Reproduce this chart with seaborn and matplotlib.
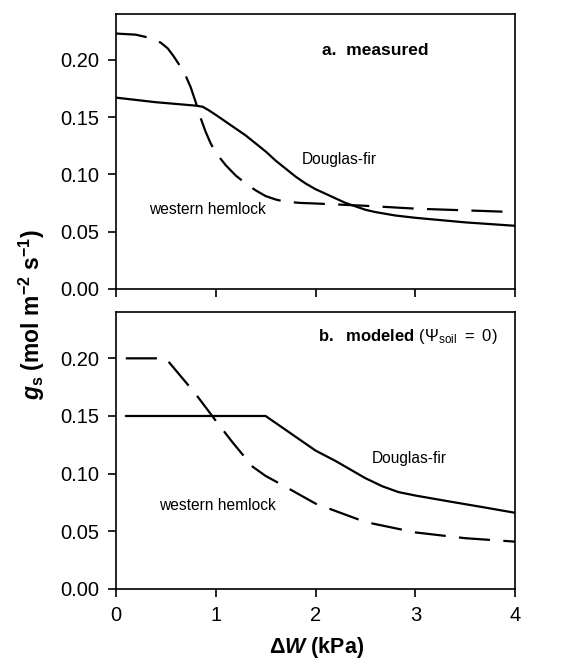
import pandas as pd
import matplotlib
matplotlib.use("Agg")
import matplotlib.pyplot as plt
import seaborn as sns

# a. measured
meas_df_x = [0, 0.4, 0.8, 0.87, 0.93, 1.0, 1.1, 1.2, 1.3, 1.4, 1.5, 1.6, 1.7, 1.8, 1.9, 2.0,
             2.1, 2.2, 2.3, 2.4, 2.5, 2.6, 2.8, 3.0, 3.5, 4.0]
meas_df_y = [0.167, 0.163, 0.160, 0.159, 0.156, 0.152, 0.146, 0.140, 0.134, 0.127, 0.120, 0.112,
             0.105, 0.098, 0.092, 0.087, 0.083, 0.079, 0.075, 0.072, 0.069, 0.067, 0.064, 0.062,
             0.058, 0.055]
meas_wh_x = [0, 0.2, 0.35, 0.45, 0.52, 0.58, 0.64, 0.70, 0.75, 0.80, 0.85, 0.90, 0.95, 1.0, 1.1,
             1.2, 1.3, 1.4, 1.5, 1.6, 1.7, 1.85, 2.0, 2.5, 3.0, 3.5, 4.0]
meas_wh_y = [0.223, 0.222, 0.219, 0.215, 0.210, 0.203, 0.195, 0.186, 0.176, 0.163, 0.149, 0.137,
             0.127, 0.119, 0.108, 0.099, 0.092, 0.086, 0.081, 0.078, 0.076, 0.075, 0.0745, 0.0725,
             0.070, 0.0685, 0.067]

# b. modeled
mod_df_x = [0.1, 1.5, 2.0, 2.2, 2.5, 2.67, 2.83, 3.0, 3.33, 3.67, 4.0]
mod_df_y = [0.150, 0.150, 0.120, 0.111, 0.096, 0.089, 0.084, 0.081, 0.076, 0.071, 0.066]
mod_wh_x = [0.1, 0.5, 0.8, 1.0, 1.17, 1.37, 1.5, 1.67, 2.0, 2.5, 3.0, 3.5, 4.0]
mod_wh_y = [0.200, 0.200, 0.169, 0.146, 0.127, 0.106, 0.098, 0.090, 0.074, 0.058, 0.049, 0.044, 0.041]

species = ["Douglas-fir", "western hemlock"]


def long_df(x1, y1, x2, y2):
    return pd.concat([
        pd.DataFrame({"x": x1, "y": y1, "sp": species[0]}),
        pd.DataFrame({"x": x2, "y": y2, "sp": species[1]}),
    ])


sns.set_style("ticks", {"axes.edgecolor": "black", "text.color": "black",
                        "xtick.color": "black", "ytick.color": "black",
                        "axes.labelcolor": "black"})
plt.rcParams["font.family"] = ["Liberation Sans", "DejaVu Sans"]
plt.rcParams["mathtext.fontset"] = "custom"
plt.rcParams["mathtext.rm"] = "Liberation Sans:bold"
plt.rcParams["mathtext.bf"] = "Liberation Sans:bold"
plt.rcParams["mathtext.it"] = "Liberation Sans:italic:bold"
plt.rcParams["mathtext.sf"] = "Liberation Sans"

fig = plt.figure(figsize=(5.65, 6.70), dpi=100)
ax1 = fig.add_axes([0.205, 0.569, 0.707, 0.410])
ax2 = fig.add_axes([0.205, 0.121, 0.707, 0.413])

pal = {species[0]: "black", species[1]: "black"}
dash = {species[0]: "", species[1]: (14, 6)}

sns.lineplot(data=long_df(meas_df_x, meas_df_y, meas_wh_x, meas_wh_y), x="x", y="y",
             hue="sp", style="sp", palette=pal, dashes=dash, linewidth=1.6,
             legend=False, ax=ax1)
sns.lineplot(data=long_df(mod_df_x, mod_df_y, mod_wh_x, mod_wh_y), x="x", y="y",
             hue="sp", style="sp", palette=pal, dashes=dash, linewidth=1.6,
             legend=False, ax=ax2)

for ax in (ax1, ax2):
    ax.set_xlim(0, 4)
    ax.set_ylim(0, 0.24)
    ax.set_xticks([0, 1, 2, 3, 4])
    ax.set_yticks([0, 0.05, 0.10, 0.15, 0.20])
    ax.set_yticklabels(["0.00", "0.05", "0.10", "0.15", "0.20"])
    ax.tick_params(direction="out", length=6, width=1.2, labelsize=14.5, pad=6)
    for s in ax.spines.values():
        s.set_linewidth(1.2)
    ax.set_xlabel("")
    ax.set_ylabel("")

ax1.tick_params(labelbottom=False)

ax1.text(2.6, 0.208, "a.  measured", fontsize=12.5, fontweight="bold", ha="center", va="center")
ax1.text(2.24, 0.113, "Douglas-fir", fontsize=11.2, ha="center", va="center")
ax1.text(0.92, 0.069, "western hemlock", fontsize=11.2, ha="center", va="center")

ax2.text(2.92, 0.219, r"$\mathrm{b.\ \ modeled}\ \mathsf{(\Psi_{soil}\ =\ 0)}$",
         fontsize=12, ha="center", va="center")
ax2.text(2.94, 0.1135, "Douglas-fir", fontsize=11.2, ha="center", va="center")
ax2.text(1.02, 0.072, "western hemlock", fontsize=11.2, ha="center", va="center")

fig.text(0.057, 0.53, r"$g_\mathrm{s}$ (mol m$^{\mathrm{-2}}$ s$^{\mathrm{-1}}$)",
         rotation=90, fontsize=16.5, fontweight="bold", ha="center", va="center")
fig.text(0.56, 0.015, r"$\Delta\mathit{W}$ (kPa)", fontsize=15.5, fontweight="bold",
         ha="center", va="bottom")

fig.savefig("out.png", dpi=100)
